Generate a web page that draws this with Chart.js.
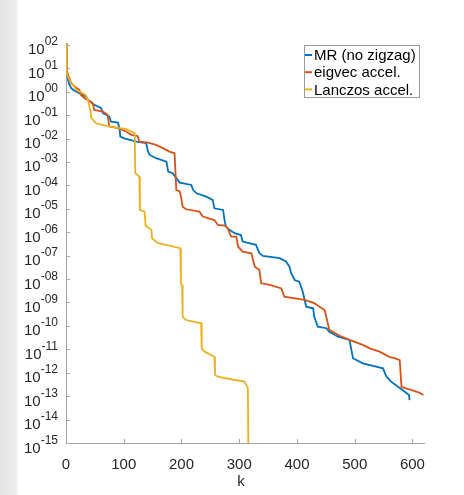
<!DOCTYPE html>
<html lang="en">
<head>
    <meta charset="UTF-8">
    <title>Residual history</title>
    <script src="https://cdn.jsdelivr.net/npm/chart.js"></script>
    <style>
        body { margin: 0; background: #fff; }
        #resChart {
            display: block;
            background: linear-gradient(to right, #e3e3e3 0px, #eeeeee 17px, #ffffff 18px);
        }
    </style>
</head>
<body>
    <canvas id="resChart" width="464" height="495"></canvas>

    <script>
        // iteration k and log10 of residual
        const mrK   = [0, 1, 2, 3, 5, 9, 13, 18, 23, 35, 38, 44, 49, 61, 64, 75, 78, 90, 93, 94, 101, 122, 139, 142, 145, 156, 174, 177, 185, 191, 197, 217, 220, 226, 243, 254, 257, 272, 275, 277, 283, 292, 303, 306, 329, 335, 341, 370, 381, 387, 390, 396, 404, 410, 416, 428, 430, 436, 451, 456, 471, 491, 497, 514, 549, 555, 563, 575, 583, 594, 595];
        const mrExp = [2.1, 1.0, 0.75, 0.58, 0.35, 0.15, 0.07, 0.0, -0.06, -0.21, -0.35, -0.46, -0.56, -0.70, -0.92, -1.06, -1.28, -1.32, -1.63, -1.92, -1.99, -2.13, -2.20, -2.56, -2.70, -2.84, -2.99, -3.41, -3.48, -3.69, -3.88, -3.98, -4.19, -4.34, -4.48, -4.62, -4.98, -5.05, -5.55, -5.76, -5.90, -6.04, -6.12, -6.40, -6.54, -6.90, -7.01, -7.11, -7.25, -7.47, -7.75, -8.04, -8.11, -8.54, -9.18, -9.25, -9.61, -10.03, -10.10, -10.25, -10.46, -10.60, -11.38, -11.60, -11.81, -12.17, -12.38, -12.60, -12.74, -12.95, -13.17];

        const eigK   = [0, 1, 2, 4, 6, 9, 15, 23, 26, 32, 38, 46, 49, 64, 72, 75, 90, 104, 113, 124, 127, 142, 156, 168, 179, 188, 191, 197, 200, 202, 208, 231, 237, 257, 263, 275, 280, 286, 295, 298, 306, 321, 327, 335, 338, 353, 373, 378, 413, 430, 439, 448, 456, 474, 491, 514, 526, 543, 560, 569, 578, 581, 589, 612, 619];
        const eigExp = [2.1, 1.07, 0.85, 0.68, 0.58, 0.36, 0.22, 0.08, -0.14, -0.28, -0.35, -0.49, -0.78, -0.85, -0.99, -1.49, -1.56, -1.70, -1.84, -1.89, -2.13, -2.17, -2.27, -2.41, -2.56, -2.63, -4.19, -4.26, -4.60, -4.91, -5.02, -5.12, -5.33, -5.48, -5.69, -5.72, -5.83, -6.19, -6.19, -6.62, -6.83, -6.90, -7.47, -7.61, -8.18, -8.25, -8.40, -8.75, -8.89, -9.03, -9.18, -9.32, -10.17, -10.42, -10.60, -10.81, -10.96, -11.10, -11.32, -11.38, -11.46, -12.60, -12.67, -12.85, -12.95];

        const lanK   = [0, 1, 6, 18, 34, 38, 42, 44, 52, 70, 104, 119, 120, 127, 128, 136, 138, 148, 149, 159, 198, 199, 201, 202, 208, 234, 235, 240, 257, 258, 263, 292, 309, 315, 316];
        const lanExp = [2.12, 0.79, 0.50, 0.08, -0.14, -0.35, -0.78, -1.13, -1.35, -1.46, -1.60, -1.77, -3.48, -3.63, -5.05, -5.12, -5.72, -5.90, -6.26, -6.47, -6.68, -8.18, -8.25, -9.61, -9.75, -9.89, -10.96, -11.10, -11.32, -12.10, -12.17, -12.31, -12.38, -12.66, -16];

        const xTicks = [0, 100, 200, 300, 400, 500, 600];
        const yTickExps = [2, 1, 0, -1, -2, -3, -4, -5, -6, -7, -8, -9, -10, -11, -12, -13, -14, -15];

        const seriesNames = ['MR (no zigzag)', 'eigvec accel.', 'Lanczos accel.'];
        const seriesColors = ['#0072BD', '#D95319', '#EDB120'];

        function toPoints(ks, exps) {
            return ks.map((k, i) => ({ x: k, y: Math.pow(10, exps[i]) }));
        }

        function expLabel(e) {
            const s = String(Math.abs(e)).padStart(2, '0');
            return (e < 0 ? '-' : '') + s;
        }

        // MATLAB-ish axes: inward ticks, superscript labels, boxed legend
        const decorations = {
            id: 'decorations',
            afterDraw(chart) {
                const { ctx, chartArea, scales } = chart;
                const x = scales.x, y = scales.y;
                ctx.save();

                ctx.strokeStyle = '#a6a6a6';
                ctx.lineWidth = 1;
                ctx.beginPath();
                xTicks.forEach(v => {
                    const px = Math.round(x.getPixelForValue(v)) + 0.5;
                    ctx.moveTo(px, chartArea.bottom);
                    ctx.lineTo(px, chartArea.bottom - 4);
                });
                yTickExps.forEach(e => {
                    const py = Math.round(y.getPixelForValue(Math.pow(10, e))) + 0.5;
                    ctx.moveTo(chartArea.left, py);
                    ctx.lineTo(chartArea.left + 4, py);
                });
                ctx.stroke();

                ctx.fillStyle = '#262626';
                ctx.textAlign = 'center';
                ctx.textBaseline = 'middle';
                ctx.font = '15px "Liberation Sans", Arial, sans-serif';
                xTicks.forEach(v => {
                    ctx.fillText(String(v), x.getPixelForValue(v), chartArea.bottom + 22);
                });
                ctx.fillText('k', (chartArea.left + chartArea.right) / 2 - 4, chartArea.bottom + 39);

                ctx.textAlign = 'right';
                ctx.textBaseline = 'alphabetic';
                const rightEdge = 58;
                yTickExps.forEach(e => {
                    const py = y.getPixelForValue(Math.pow(10, e));
                    const sup = expLabel(e);
                    ctx.font = '12px "Liberation Sans", Arial, sans-serif';
                    const w = ctx.measureText(sup).width;
                    ctx.fillText(sup, rightEdge, py + 0.5);
                    ctx.font = '15px "Liberation Sans", Arial, sans-serif';
                    ctx.fillText('10', rightEdge - w, py + 9.5);
                });

                // legend
                const bx = 304.5, by = 45.5, bw = 115, bh = 52;
                ctx.fillStyle = '#ffffff';
                ctx.fillRect(bx, by, bw, bh);
                ctx.strokeStyle = '#9a9a9a';
                ctx.strokeRect(bx, by, bw, bh);
                ctx.font = '15px "Liberation Sans", Arial, sans-serif';
                ctx.textAlign = 'left';
                ctx.textBaseline = 'middle';
                seriesNames.forEach((name, i) => {
                    const ry = 55 + i * 17.2;
                    ctx.strokeStyle = seriesColors[i];
                    ctx.lineWidth = 2;
                    ctx.beginPath();
                    ctx.moveTo(305, ry);
                    ctx.lineTo(312, ry);
                    ctx.stroke();
                    ctx.fillStyle = '#000000';
                    ctx.fillText(name, 314, ry + 1);
                });
                ctx.restore();
            }
        };

        const ctx = document.getElementById('resChart').getContext('2d');
        new Chart(ctx, {
            type: 'line',
            data: {
                datasets: [
                    { label: seriesNames[0], data: toPoints(mrK, mrExp), borderColor: seriesColors[0], order: 3 },
                    { label: seriesNames[1], data: toPoints(eigK, eigExp), borderColor: seriesColors[1], order: 2 },
                    { label: seriesNames[2], data: toPoints(lanK, lanExp), borderColor: seriesColors[2], order: 1 }
                ]
            },
            options: {
                responsive: false,
                animation: false,
                layout: { padding: { top: 43, right: 40, left: 0, bottom: 0 } },
                elements: {
                    line: { borderWidth: 1.8, tension: 0, fill: false },
                    point: { radius: 0 }
                },
                plugins: {
                    legend: { display: false },
                    tooltip: { enabled: false }
                },
                scales: {
                    x: {
                        type: 'linear',
                        min: 0,
                        max: 620,
                        afterBuildTicks: s => { s.ticks = xTicks.map(v => ({ value: v })); },
                        afterFit: s => { s.height = 52; },
                        ticks: { display: false },
                        grid: { drawOnChartArea: false, drawTicks: false },
                        border: { color: '#a6a6a6' }
                    },
                    y: {
                        type: 'logarithmic',
                        min: 1e-15,
                        max: 120,
                        afterBuildTicks: s => { s.ticks = yTickExps.map(e => ({ value: Math.pow(10, e) })); },
                        afterFit: s => { s.width = 66; },
                        ticks: { display: false },
                        grid: { drawOnChartArea: false, drawTicks: false },
                        border: { color: '#a6a6a6' }
                    }
                }
            },
            plugins: [decorations]
        });
    </script>
</body>
</html>
